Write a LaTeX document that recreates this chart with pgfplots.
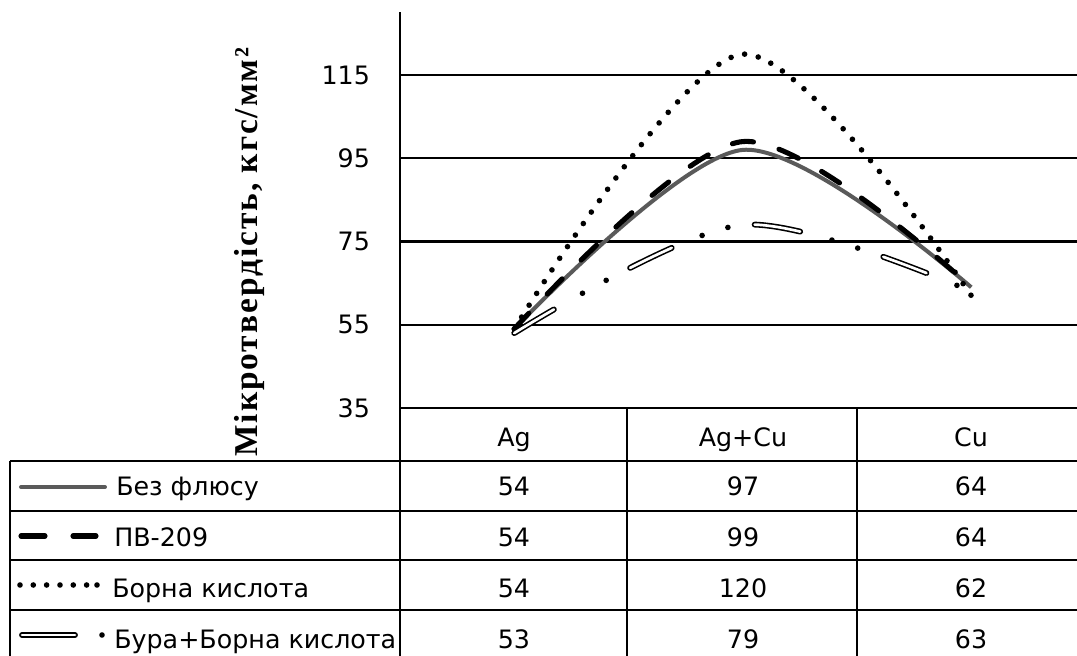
\documentclass[border=0pt]{standalone}
\usepackage{fontspec}
\setmainfont{DejaVu Sans}
\newfontfamily\ylabfont[LetterSpace=6.0]{Liberation Serif}
\usepackage{pgfplots}
\pgfplotsset{compat=1.18}
\definecolor{lg}{RGB}{90,90,90}
\begin{document}
\begin{tikzpicture}
\begin{axis}[
  at={(0,0)}, anchor=south west,
  scale only axis, width=507.75pt, height=297pt,
  xmin=-0.5, xmax=2.4628, ymin=35, ymax=130.13,
  axis x line=none, axis y line=left,
  axis line style={-, black, line width=1.7pt},
  xtick=\empty, ytick={35,55,75,95,115},
  ymajorgrids, grid style={black, line width=1.7pt},
  major tick length=7.5pt, tick align=inside,
  tick style={black, line width=1.7pt},
  yticklabel style={font=\fontsize{19}{21}\selectfont, xshift=-19pt},
  /pgf/number format/assume math mode=true,
  clip=false,
]
\addplot[smooth, color=lg, line width=3pt] coordinates {(0,54) (1,97) (2,64)};
\addplot[smooth, black, line width=3.8pt, line cap=round, dash pattern=on 16pt off 20pt] coordinates {(0,54) (1,99) (2,64)};
\addplot[smooth, black, line width=4.2pt, line cap=round, dash pattern=on 0pt off 10.5pt] coordinates {(0,54) (1,120) (2,62)};
\addplot[smooth, black, line width=1.2pt, double=white, double distance=2pt, line cap=round, dash pattern=on 34.6pt off 65.15pt] coordinates {(0,53) (1,79) (2,63)};
\addplot[smooth, black, line width=4.2pt, line cap=round, dash pattern=on 0pt off 20.25pt on 0pt off 79.5pt, dash phase=40.5pt, forget plot] coordinates {(0,53) (1,79) (2,63)};
\end{axis}
\begin{scope}[x=0.75pt, y=-0.75pt, shift={(-400,-408)}]
  % table grid
  \draw[black, line width=1.7pt] (400,408) -- (1077,408);
  \foreach \yy in {461,511,560,610} {\draw[black, line width=1.7pt] (10,\yy) -- (1077,\yy);}
  \draw[black, line width=1.7pt] (10,461) -- (10,656);
  \draw[black, line width=1.7pt] (400,408) -- (400,656);
  \draw[black, line width=1.7pt] (627,408) -- (627,656);
  \draw[black, line width=1.7pt] (857,408) -- (857,656);
  \begin{scope}[every node/.style={font=\fontsize{19}{21}\selectfont, anchor=base, inner sep=0pt}]
    \node at (514,447) {Ag};
    \node at (743,447) {Ag+Cu};
    \node at (971,447) {Cu};
    \node at (514,495) {54}; \node at (743,495) {97};  \node at (971,495) {64};
    \node at (514,546) {54}; \node at (743,546) {99};  \node at (971,546) {64};
    \node at (514,597) {54}; \node at (743,597) {120}; \node at (971,597) {62};
    \node at (514,648) {53}; \node at (743,648) {79};  \node at (971,648) {63};
    \node[anchor=base west] at (116,495) {Без флюсу};
    \node[anchor=base west] at (114,546) {ПВ-209};
    \node[anchor=base west] at (112,597) {Борна кислота};
    \node[anchor=base west] at (114,648) {Бура+Борна кислота};
  \end{scope}
  % legend samples
  \draw[lg, line width=3pt, line cap=round] (21,487) -- (105,487);
  \draw[black, line width=3.8pt, line cap=round] (21,536) -- (45,536);
  \draw[black, line width=3.8pt, line cap=round] (73,536) -- (96,536);
  \foreach \xx in {20,33.3,46.6,60,73.3,86.6,97} {\fill[black] (\xx,585) circle (2.8);}
  \draw[black, line width=1.2pt, double=white, double distance=2pt, line cap=round] (22,635) -- (75,635);
  \fill[black] (102,635) circle (2.8);
  % y label
  \node[rotate=90, font=\ylabfont\bfseries\fontsize{25}{28}\selectfont] at (249,252) {Мікротвердість, кгс/мм²};
  \pgfresetboundingbox
  \useasboundingbox (0,0) rectangle (1077,656);
\end{scope}
\end{tikzpicture}
\end{document}
